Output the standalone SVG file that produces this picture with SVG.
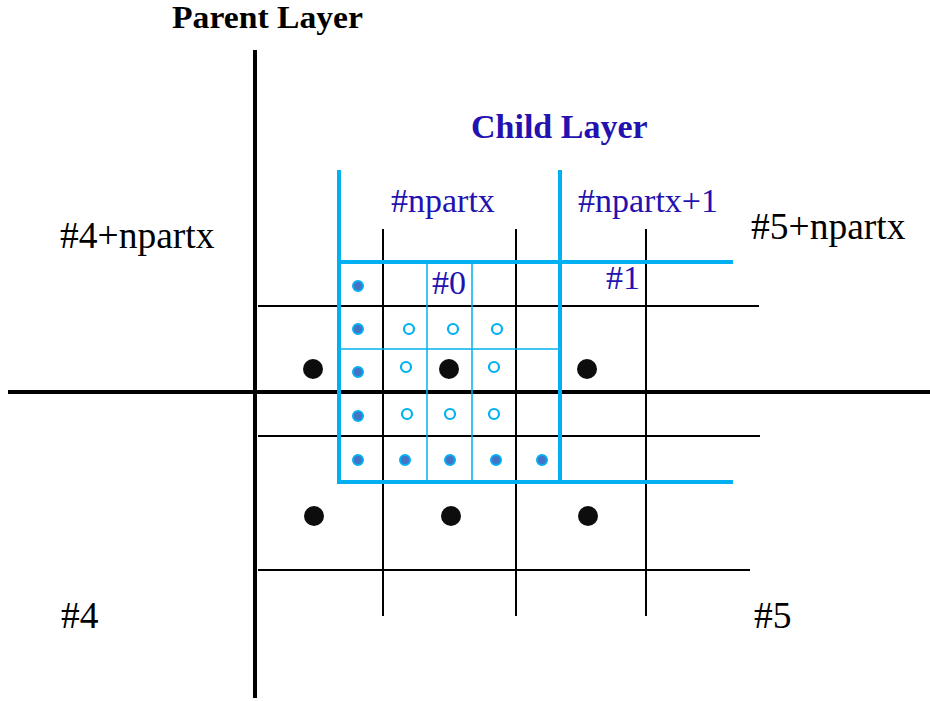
<svg xmlns="http://www.w3.org/2000/svg" width="930" height="701" viewBox="0 0 930 701">
<style>
.bk{stroke:#000;fill:none}
.thick{stroke-width:4}
.thin{stroke-width:2}
.cy{stroke:#00b0f0;fill:none}
.cyt{stroke-width:4}
.cyn{stroke-width:1.5}
.fd{fill:#4472c4;stroke:#00b0f0;stroke-width:2}
.od{fill:#fff;stroke:#00b0f0;stroke-width:2.2}
.bd{fill:#0d0d0d}
.t{font-family:"Liberation Serif","Times New Roman",serif}
.blk{fill:#000;font-size:37.5px}
.blu{fill:#2311b0;font-size:34px}
.b{font-weight:bold}
</style>
<rect width="930" height="701" fill="#fff"/>
<g id="connectors">
<line class="bk thick" x1="255" y1="50" x2="255" y2="698"/>
<line class="bk thick" x1="8" y1="392" x2="930" y2="392"/>
<line class="bk thin" x1="383" y1="229" x2="383" y2="616"/>
<line class="bk thin" x1="516" y1="229" x2="516" y2="616"/>
<line class="bk thin" x1="646" y1="229" x2="646" y2="616"/>
<line class="bk thin" x1="258" y1="306" x2="759" y2="306"/>
<line class="bk thin" x1="258" y1="436" x2="760" y2="436"/>
<line class="bk thin" x1="258" y1="570" x2="750" y2="570"/>
<line class="cy cyn" x1="427" y1="262" x2="427" y2="482"/>
<line class="cy cyn" x1="472" y1="262" x2="472" y2="482"/>
<line class="cy cyn" x1="339" y1="349" x2="560" y2="349"/>
<line class="cy cyt" x1="339" y1="170" x2="339" y2="483"/>
<line class="cy cyt" x1="560" y1="170" x2="560" y2="482"/>
<line class="cy cyt" x1="337" y1="262" x2="733" y2="262"/>
<line class="cy cyt" x1="337" y1="482" x2="733" y2="482"/>
</g>
<g id="child-filled-dots">
<circle class="fd" cx="358" cy="286" r="5"/>
<circle class="fd" cx="358" cy="329" r="5"/>
<circle class="fd" cx="358" cy="372" r="5"/>
<circle class="fd" cx="358" cy="416" r="5"/>
<circle class="fd" cx="358" cy="460" r="5"/>
<circle class="fd" cx="405" cy="460" r="5"/>
<circle class="fd" cx="450" cy="460" r="5"/>
<circle class="fd" cx="496" cy="460" r="5"/>
<circle class="fd" cx="542" cy="460" r="5"/>
</g>
<g id="child-open-dots">
<circle class="od" cx="409" cy="329" r="5"/>
<circle class="od" cx="453" cy="329" r="5"/>
<circle class="od" cx="497" cy="329" r="5"/>
<circle class="od" cx="406" cy="367" r="5"/>
<circle class="od" cx="494" cy="367" r="5"/>
<circle class="od" cx="407" cy="414" r="5"/>
<circle class="od" cx="450" cy="414" r="5"/>
<circle class="od" cx="494" cy="414" r="5"/>
</g>
<g id="parent-dots">
<circle class="bd" cx="313" cy="369" r="10"/>
<circle class="bd" cx="449" cy="369" r="10"/>
<circle class="bd" cx="587" cy="369" r="10"/>
<circle class="bd" cx="314" cy="516" r="10"/>
<circle class="bd" cx="451" cy="516" r="10"/>
<circle class="bd" cx="588" cy="516" r="10"/>
</g>
<g id="labels">
<text class="t b" x="172" y="28" font-size="31" fill="#000" textLength="191" lengthAdjust="spacingAndGlyphs">Parent Layer</text>
<text class="t b" x="471" y="138" font-size="34" fill="#2311b0">Child Layer</text>
<text class="t blu" x="391" y="212">#npartx</text>
<text class="t blu" x="578" y="212">#npartx+1</text>
<text class="t blu" x="432" y="294" font-size="33">#0</text>
<text class="t blu" x="606" y="289" font-size="31">#1</text>
<text class="t blk" x="60" y="248">#4+npartx</text>
<text class="t blk" x="751" y="239">#5+npartx</text>
<text class="t blk" x="61" y="628">#4</text>
<text class="t blk" x="754" y="628">#5</text>
</g>
</svg>
